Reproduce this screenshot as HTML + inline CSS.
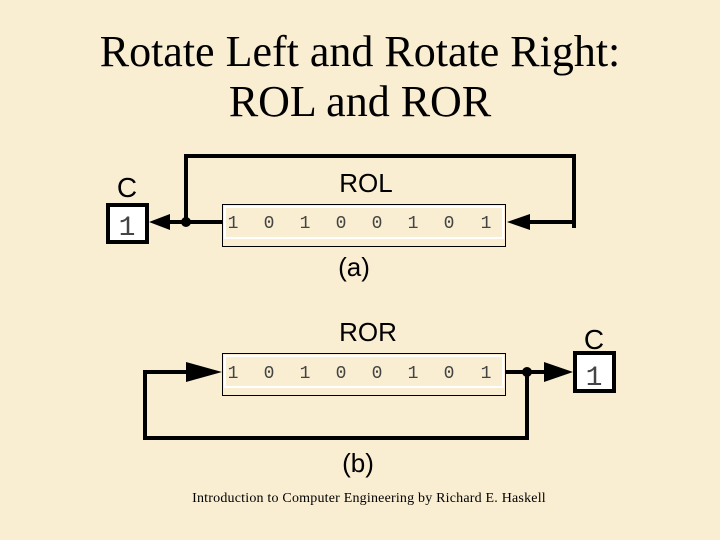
<!DOCTYPE html>
<html><head><meta charset="utf-8"><style>
html,body{margin:0;padding:0;width:720px;height:540px;overflow:hidden;background:#f9edd2;}
svg{display:block}
</style></head><body>
<svg width="720" height="540" xmlns="http://www.w3.org/2000/svg">
<rect width="720" height="540" fill="#f9edd2"/>
<g font-family="Liberation Serif, serif" font-size="44" text-anchor="middle" fill="#000">
<text x="360" y="66">Rotate Left and Rotate Right:</text>
<text x="360" y="116">ROL and ROR</text>
</g>
<g font-family="Liberation Sans, sans-serif" font-size="26" text-anchor="middle" fill="#000">
<text x="366" y="192">ROL</text>
<text x="127" y="197" font-size="28">C</text>
<text x="354" y="276">(a)</text>
<text x="368" y="341">ROR</text>
<text x="594" y="349" font-size="28">C</text>
<text x="358" y="472">(b)</text>
</g>
<text x="369" y="502" font-family="Liberation Serif, serif" font-size="14" letter-spacing="0.2" text-anchor="middle">Introduction to Computer Engineering  by Richard E. Haskell</text>
<rect x="222.5" y="204.5" width="283" height="42" fill="none" stroke="#000" stroke-width="1"/>
<rect x="225" y="207" width="278" height="31" fill="none" stroke="#fff" stroke-width="2"/>
<g font-family="Liberation Mono, monospace" font-size="18" fill="#444" text-anchor="middle">
<text x="233" y="228">1</text><text x="269" y="228">0</text><text x="305" y="228">1</text><text x="341" y="228">0</text><text x="377" y="228">0</text><text x="413" y="228">1</text><text x="449" y="228">0</text><text x="486" y="228">1</text>
<text x="233" y="378">1</text><text x="269" y="378">0</text><text x="305" y="378">1</text><text x="341" y="378">0</text><text x="377" y="378">0</text><text x="413" y="378">1</text><text x="449" y="378">0</text><text x="486" y="378">1</text>
</g>
<g stroke="#000" stroke-width="4" fill="none">
<polyline points="186,222 186,156 574,156 574,228"/>
<line x1="222" y1="222" x2="168" y2="222"/>
<line x1="574" y1="222" x2="525" y2="222"/>
<rect x="108" y="205" width="39" height="37" fill="#fff"/>
</g>
<circle cx="186" cy="222" r="5" fill="#000"/>
<polygon points="149,222 170,214 170,230" fill="#000"/>
<polygon points="507,222 530,214 530,230" fill="#000"/>
<text x="127" y="235" font-family="Liberation Mono, monospace" font-size="28" text-anchor="middle" fill="#444">1</text>
<rect x="222.5" y="353.5" width="283" height="42" fill="none" stroke="#000" stroke-width="1"/>
<rect x="225" y="356" width="278" height="31" fill="none" stroke="#fff" stroke-width="2"/>
<g stroke="#000" stroke-width="4" fill="none">
<polyline points="527,372 527,438 145,438 145,372 190,372"/>
<line x1="505" y1="372" x2="555" y2="372"/>
<rect x="575" y="353" width="39" height="38" fill="#fff"/>
</g>
<circle cx="527" cy="372" r="5" fill="#000"/>
<polygon points="222,372 186,362 186,382" fill="#000"/>
<polygon points="573,372 544,362 544,382" fill="#000"/>
<text x="594" y="385" font-family="Liberation Mono, monospace" font-size="28" text-anchor="middle" fill="#444">1</text>
</svg>
</body></html>
